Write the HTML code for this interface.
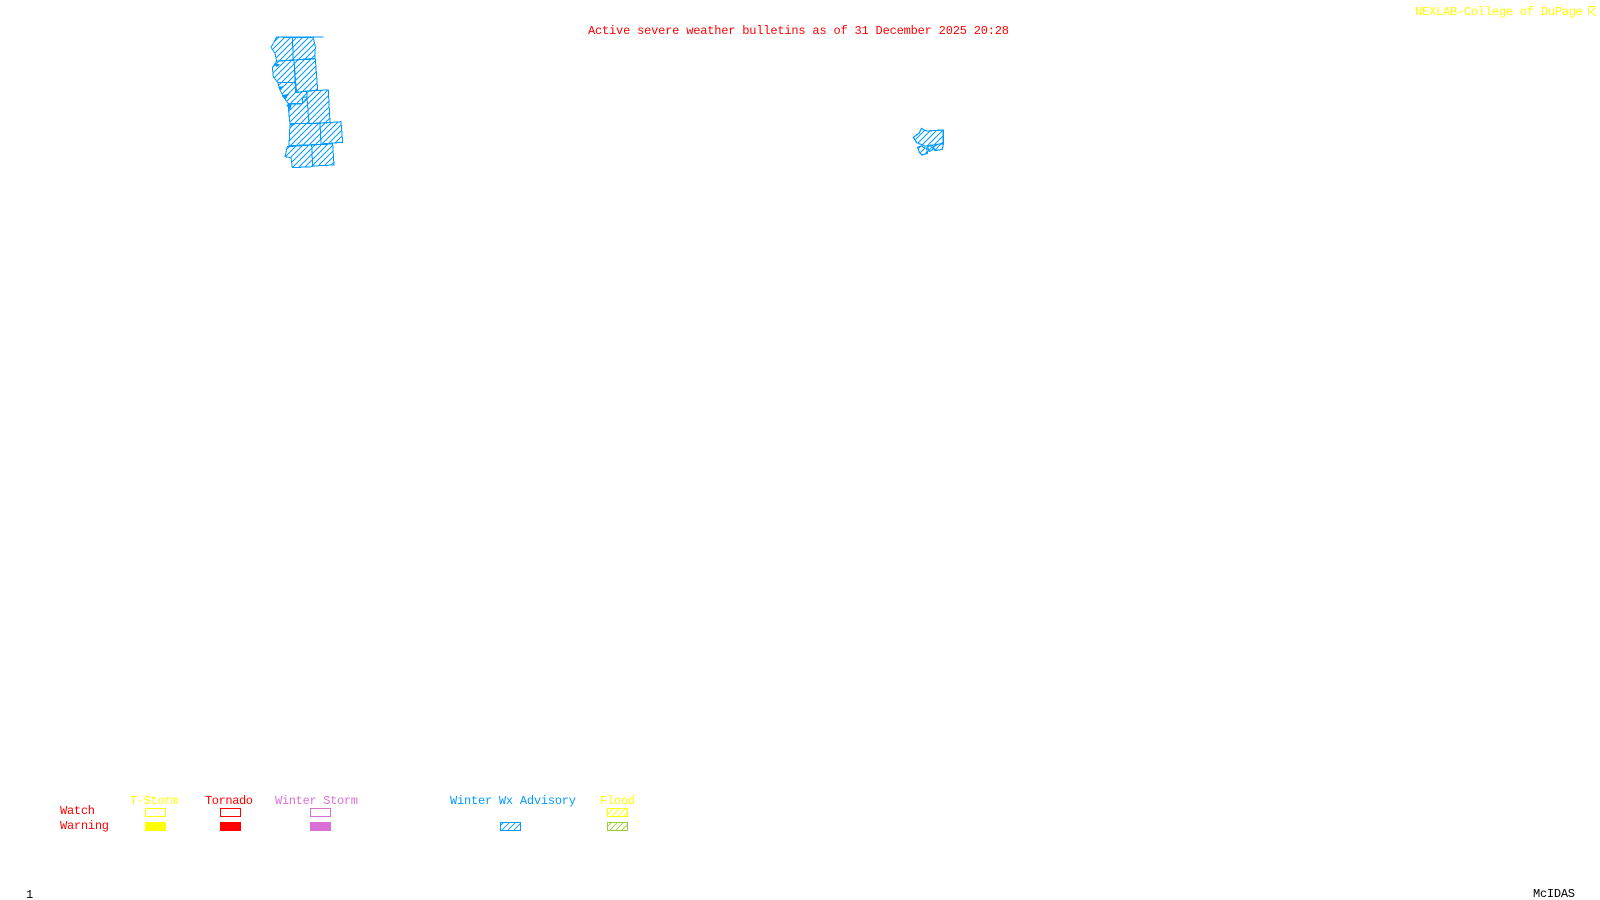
<!DOCTYPE html>
<html><head><meta charset="utf-8"><style>
html,body{margin:0;padding:0;background:#fff;width:1600px;height:900px;overflow:hidden}
svg{display:block}
text{font-family:"Liberation Mono","DejaVu Sans Mono",monospace;font-size:12px}
.px{shape-rendering:crispEdges}
</style></head><body>
<svg width="1600" height="900" viewBox="0 0 1600 900" xmlns="http://www.w3.org/2000/svg">
<defs>
<pattern id="hb" patternUnits="userSpaceOnUse" width="18" height="18"><path d="M-4,4 L4,-4 M0,18 L18,0 M14,22 L22,14" stroke="#0099ff" stroke-width="3" fill="none"/></pattern>
<pattern id="hb2" patternUnits="userSpaceOnUse" width="6" height="6"><path d="M-1,1 L1,-1 M0,6 L6,0 M5,7 L7,5" stroke="#0099ff" stroke-width="0.9" fill="none"/></pattern>
<pattern id="hy" patternUnits="userSpaceOnUse" width="6" height="6"><path d="M-1,1 L1,-1 M0,6 L6,0 M5,7 L7,5" stroke="#ffff00" stroke-width="0.9" fill="none"/></pattern>
<pattern id="hg" patternUnits="userSpaceOnUse" width="6" height="6"><path d="M-1,1 L1,-1 M0,6 L6,0 M5,7 L7,5" stroke="#9acd32" stroke-width="0.9" fill="none"/></pattern>
</defs>

<text x="588" y="34" fill="#ff0000" textLength="421">Active severe weather bulletins as of 31 December 2025 20:28</text>
<text x="1415" y="15" fill="#ffff00" textLength="168">NEXLAB-College of DuPage</text>
<path d="M1596,6.5 H1588.5 V15 M1595,8 L1591,12 L1596,16" stroke="#ffff00" fill="none" class="px"/>

<g transform="translate(255,25) scale(0.33333)" fill="url(#hb)" stroke="#0099ff" stroke-width="3" stroke-linejoin="round" class="px">
<path d="M65,36 H205" fill="none"/>
<polygon points="65,36 112,38 115,105 65,108 60,85 48,67 55,55"/>
<polygon points="112,38 175,38 181,65 180,100 115,105"/>
<polygon points="52,128 65,108 117,106 122,172 68,172 55,155"/>
<polygon points="117,105 181,102 188,195 122,202"/>
<polygon points="68,172 122,172 125,203 155,198 156,215 142,218 142,236 100,236 85,215 75,195"/>
<polygon points="155,198 220,195 225,292 162,296 156,218"/>
<polygon points="100,238 142,236 156,218 162,296 105,296 100,250"/>
<polygon points="105,296 195,296 198,358 102,362"/>
<polygon points="195,295 258,290 263,352 198,357"/>
<polygon points="97,365 170,360 173,425 112,428 108,398 90,395"/>
<polygon points="170,360 233,357 237,420 173,423"/>
<g fill="#0099ff">
<polygon points="60,119 72,119 66,124"/>
<polygon points="72,187 82,185 78,193"/>
<polygon points="82,212 100,208 90,222"/>
<polygon points="96,240 108,240 104,252"/>
<polygon points="106,296 120,296 112,302"/>
</g>
</g>

<g transform="translate(905,120) scale(0.33333)" fill="url(#hb)" stroke="#0099ff" stroke-width="3.5" stroke-linejoin="round" class="px">
<polygon points="25,52 42,40 50,25 58,30 65,33 115,30 115,70 85,75 75,78 60,78 45,72 35,68"/>
<polygon points="38,82 50,78 55,82 65,85 68,100 50,105 42,95"/>
<polygon points="68,80 78,75 85,88 72,95"/>
<polygon points="85,80 100,72 115,72 112,88 90,92"/>
</g>

<text x="130" y="804" fill="#ffff00" textLength="48">T-Storm</text>
<text x="205" y="804" fill="#ff0000" textLength="48">Tornado</text>
<text x="275" y="804" fill="#da70d6" textLength="83">Winter Storm</text>
<text x="450" y="804" fill="#0099ff" textLength="126">Winter Wx Advisory</text>
<text x="600" y="804" fill="#ffff00" textLength="35">Flood</text>
<text x="60" y="814" fill="#ff0000" textLength="35">Watch</text>
<text x="60" y="829" fill="#ff0000" textLength="49">Warning</text>

<rect x="145.5" y="808.5" width="20" height="8" fill="none" stroke="#ffff00"/>
<rect x="220.5" y="808.5" width="20" height="8" fill="none" stroke="#ff0000"/>
<rect x="310.5" y="808.5" width="20" height="8" fill="none" stroke="#da70d6"/>
<rect x="607.5" y="808.5" width="20" height="8" fill="url(#hy)" stroke="#ffff00"/>
<rect x="145" y="822" width="21" height="9" fill="#ffff00"/>
<rect x="220" y="822" width="21" height="9" fill="#ff0000"/>
<rect x="310" y="822" width="21" height="9" fill="#da70d6"/>
<rect x="500.5" y="822.5" width="20" height="8" fill="url(#hb2)" stroke="#0099ff"/>
<rect x="607.5" y="822.5" width="20" height="8" fill="url(#hg)" stroke="#9acd32"/>

<text x="26" y="898" fill="#000">1</text>
<text x="1533" y="897" fill="#000" textLength="42">McIDAS</text>
</svg>
</body></html>
